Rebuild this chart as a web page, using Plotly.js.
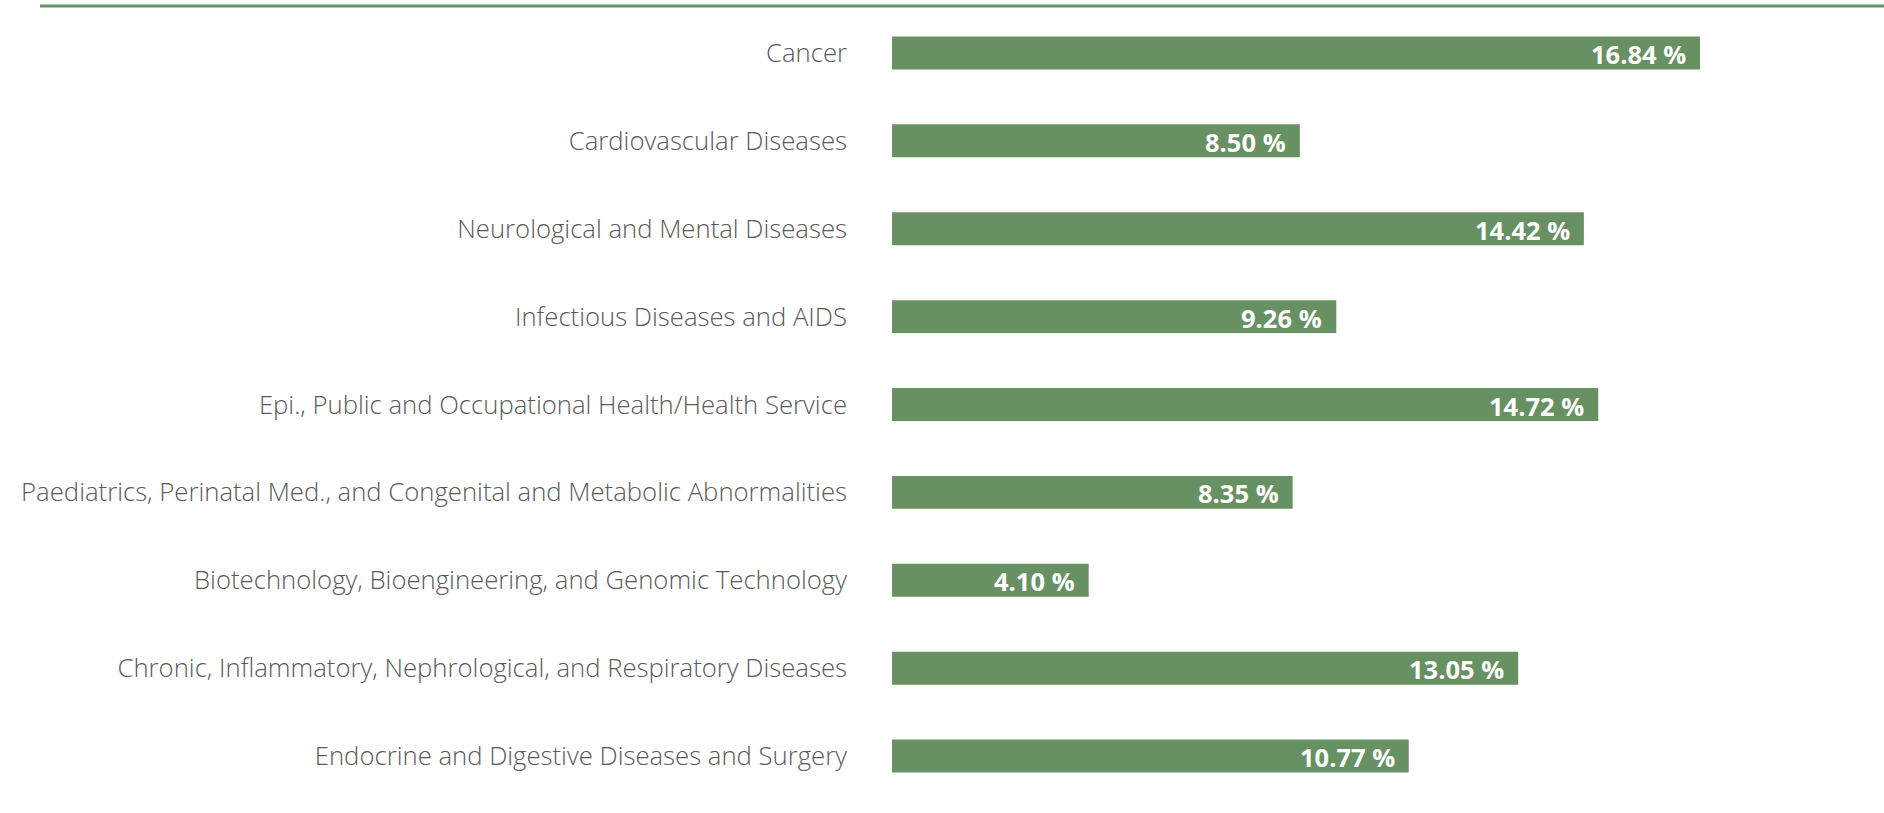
<!DOCTYPE html>
<html>
<head>
<meta charset="utf-8">
<script src="https://cdn.plot.ly/plotly-3.0.1.min.js"></script>
<style>html,body{margin:0;padding:0;background:#fff;}#chart{width:1884px;height:813px;}</style>
</head>
<body>
<div id="chart"></div>
<script>
const categories = [
  "Cancer",
  "Cardiovascular Diseases",
  "Neurological and Mental Diseases",
  "Infectious Diseases and AIDS",
  "Epi., Public and Occupational Health/Health Service",
  "Paediatrics, Perinatal Med., and Congenital and Metabolic Abnormalities",
  "Biotechnology, Bioengineering, and Genomic Technology",
  "Chronic, Inflammatory, Nephrological, and Respiratory Diseases",
  "Endocrine and Digestive Diseases and Surgery"
];
const shares = [16.84, 8.50, 14.42, 9.26, 14.72, 8.35, 4.10, 13.05, 10.77];
const valueLabels = ["16.84 %", "8.50 %", "14.42 %", "9.26 %", "14.72 %", "8.35 %", "4.10 %", "13.05 %", "10.77 %"];

const green = "#679162";

const trace = {
  type: "bar",
  orientation: "h",
  y: categories,
  x: shares,
  width: 0.375,
  marker: {color: green},
  hoverinfo: "none"
};

const annotations = categories.map((c, i) => ({
  x: shares[i], y: c, xref: "x", yref: "y",
  text: valueLabels[i], showarrow: false,
  xanchor: "right", yanchor: "middle", xshift: -12, yshift: -1,
  font: {family: "Open Sans", size: 25.5, color: "#ffffff", weight: 700}
}));

const layout = {
  width: 1884, height: 813,
  margin: {l: 892, r: 0, t: 9, b: 13},
  paper_bgcolor: "#ffffff", plot_bgcolor: "#ffffff",
  showlegend: false,
  xaxis: {range: [0, 20.675], visible: false, fixedrange: true},
  yaxis: {
    type: "category", autorange: "reversed",
    showline: false, showgrid: false, zeroline: false, ticks: "",
    ticklabelstandoff: 44,
    tickfont: {family: "Open Sans", size: 25.7, color: "#5a5a5a", weight: 300}
  },
  shapes: [{
    type: "line", xref: "paper", yref: "paper",
    x0: (40 - 892) / 992, x1: 1, y0: (800 - 6) / 791, y1: (800 - 6) / 791,
    line: {color: green, width: 3}
  }],
  annotations: annotations
};

Plotly.newPlot("chart", [trace], layout, {displayModeBar: false, staticPlot: true});
</script>
</body>
</html>
